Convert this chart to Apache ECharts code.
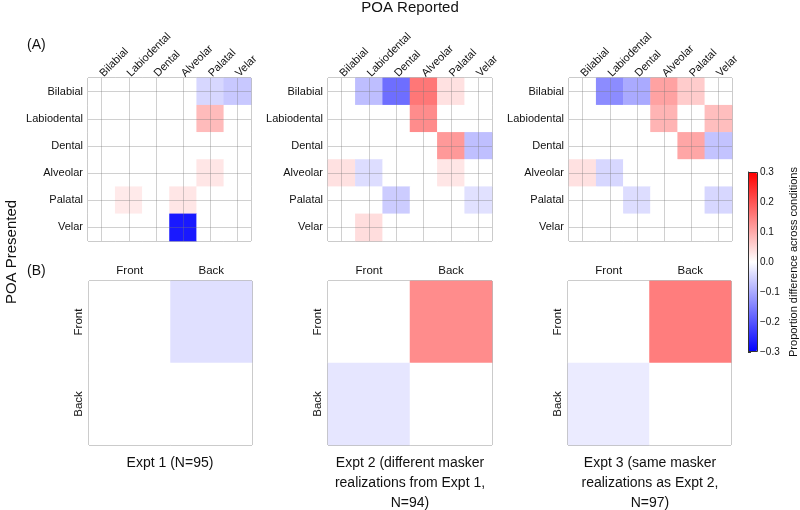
<!DOCTYPE html>
<html>
<head>
<meta charset="utf-8">
<script src="https://cdn.jsdelivr.net/npm/echarts@6/dist/echarts.min.js"></script>
<style>html,body{margin:0;padding:0;background:#fff}#c{width:800px;height:510px}</style>
</head>
<body>
<div id="c"></div>
<script>
const places = ['Bilabial','Labiodental','Dental','Alveolar','Palatal','Velar'];
const regions = ['Front','Back'];
const colorbarTicks = [-0.3,-0.2,-0.1,0.0,0.1,0.2,0.3];

// rows = presented, columns = reported
const expt1Fine = [
  [0, 0, 0, 0, -0.047, -0.065],
  [0, 0, 0, 0, 0.08, 0],
  [0, 0, 0, 0, 0, 0],
  [0, 0, 0, 0, 0.03, 0],
  [0, 0.025, 0, 0.03, 0, 0],
  [0, 0, 0, -0.27, 0, 0]
];
const expt2Fine = [
  [0, -0.076, -0.17, 0.16, 0.035, 0],
  [0, 0, 0, 0.135, 0, 0],
  [0, 0, 0, 0, 0.12, -0.075],
  [0.035, -0.04, 0, 0, 0.03, 0],
  [0, 0, -0.06, 0, 0, -0.035],
  [0, 0.04, 0, 0, 0, 0]
];
const expt3Fine = [
  [0, -0.135, -0.1, 0.11, 0.06, 0],
  [0, 0, 0, 0.088, 0, 0.076],
  [0, 0, 0, 0, 0.105, -0.07],
  [0.035, -0.047, 0, 0, 0, 0],
  [0, 0, -0.04, 0, 0, -0.047],
  [0, 0, 0, 0, 0, 0]
];
const expt1Coarse = [[0, -0.036],[0, 0]];
const expt2Coarse = [[0, 0.135],[-0.03, 0]];
const expt3Coarse = [[0, 0.153],[-0.024, 0]];

const exptTitles = [
  'Expt 1 (N=95)',
  'Expt 2 (different masker\nrealizations from Expt 1,\nN=94)',
  'Expt 3 (same masker\nrealizations as Expt 2,\nN=97)'
];

const FONT = "'Liberation Sans', Arial, sans-serif";
const TXT = '#111';

function toCells(m){
  const out = [];
  m.forEach((row, r) => row.forEach((v, c) => out.push([c, r, v])));
  return out;
}

const topLayout = [
  {left: 88, top: 78, width: 163, height: 163},
  {left: 328, top: 78, width: 164, height: 163},
  {left: 569, top: 78, width: 163, height: 163}
];
const botLayout = [
  {left: 89, top: 281, width: 163, height: 164},
  {left: 328, top: 281, width: 164, height: 164},
  {left: 568, top: 281, width: 163, height: 164}
];
const cbar = {left: 748, top: 172, width: 9, height: 180};

const grids = [], xAxes = [], yAxes = [], series = [];
const fine = [expt1Fine, expt2Fine, expt3Fine];
const coarse = [expt1Coarse, expt2Coarse, expt3Coarse];

topLayout.forEach((g, i) => {
  grids.push(Object.assign({show: true, borderColor: '#777', borderWidth: 1, backgroundColor: '#fff'}, g));
  xAxes.push({gridIndex: i, type: 'category', position: 'top', data: places,
    axisLine: {show: false}, axisTick: {show: false}, splitLine: {show: false},
    axisLabel: {rotate: -45, fontSize: 11, color: TXT, fontFamily: FONT, margin: 3, interval: 0}});
  yAxes.push({gridIndex: i, type: 'category', inverse: true, data: places,
    axisLine: {show: false}, axisTick: {show: false}, splitLine: {show: false},
    axisLabel: {fontSize: 11, color: TXT, fontFamily: FONT, margin: 5, interval: 0}});
  series.push({type: 'heatmap', xAxisIndex: i, yAxisIndex: i, data: toCells(fine[i]),
    emphasis: {disabled: true}, silent: true, z: 2,
    markLine: {silent: true, symbol: ['none','none'], animation: false, label: {show: false},
      lineStyle: {color: 'rgba(120,120,120,0.35)', width: 1, type: 'solid'},
      emphasis: {disabled: true},
      data: places.map(p => ({xAxis: p})).concat(places.map(p => ({yAxis: p})))}
  });
});
botLayout.forEach((g, k) => {
  const i = k + 3;
  grids.push(Object.assign({show: true, borderColor: '#777', borderWidth: 1, backgroundColor: '#fff'}, g));
  xAxes.push({gridIndex: i, type: 'category', position: 'top', data: regions,
    axisLine: {show: false}, axisTick: {show: false}, splitLine: {show: false},
    axisLabel: {fontSize: 11.5, color: TXT, fontFamily: FONT, margin: 4, interval: 0}});
  yAxes.push({gridIndex: i, type: 'category', inverse: true, data: regions,
    axisLine: {show: false}, axisTick: {show: false}, splitLine: {show: false},
    axisLabel: {rotate: 90, fontSize: 11.5, color: TXT, fontFamily: FONT, margin: 4, interval: 0}});
  series.push({type: 'heatmap', xAxisIndex: i, yAxisIndex: i, data: toCells(coarse[k]),
    emphasis: {disabled: true}, silent: true});
});
// colorbar axis
grids.push(Object.assign({show: false}, cbar));
xAxes.push({gridIndex: 6, type: 'value', min: 0, max: 1, show: false});
yAxes.push({gridIndex: 6, type: 'value', position: 'right',
  min: colorbarTicks[0], max: colorbarTicks[colorbarTicks.length-1], interval: 0.1,
  axisLine: {show: true, lineStyle: {color: '#333', width: 1}},
  axisTick: {show: true, length: 3, lineStyle: {color: '#333'}},
  splitLine: {show: false},
  axisLabel: {fontSize: 10, color: TXT, fontFamily: FONT, margin: 3,
    formatter: v => (Math.abs(v) < 1e-9 ? '0.0' : (v < 0 ? '\u2212' + Math.abs(v).toFixed(1) : v.toFixed(1)))},
  name: 'Proportion difference across conditions', nameLocation: 'middle', nameRotate: 90, nameGap: 31,
  nameTextStyle: {fontSize: 11, color: TXT, fontFamily: FONT}
});

const graphics = [
  {type: 'text', x: 410, y: 8, style: {text: 'POA Reported', font: '15px ' + FONT, fill: TXT, textAlign: 'center', textVerticalAlign: 'middle'}},
  {type: 'text', x: 27, y: 45, style: {text: '(A)', font: '14px ' + FONT, fill: TXT, textAlign: 'left', textVerticalAlign: 'middle'}},
  {type: 'text', x: 27, y: 271, style: {text: '(B)', font: '14px ' + FONT, fill: TXT, textAlign: 'left', textVerticalAlign: 'middle'}},
  {type: 'text', x: 12, y: 252, rotation: Math.PI/2, style: {text: 'POA Presented', font: '15px ' + FONT, fill: TXT, textAlign: 'center', textVerticalAlign: 'middle'}},
  {type: 'rect', z: 100, silent: true, shape: {x: cbar.left + 0.5, y: cbar.top + 0.5, width: cbar.width, height: cbar.height - 1}, style: {fill: 'none', stroke: '#333', lineWidth: 1}}
];
const titleX = [170, 410, 650];
exptTitles.forEach((t, i) => {
  graphics.push({type: 'text', x: titleX[i], y: 453, style: {text: t, font: '14px ' + FONT, fill: TXT, textAlign: 'center', textVerticalAlign: 'top', lineHeight: 20}});
});

const chart = echarts.init(document.getElementById('c'), null, {renderer: 'canvas'});
chart.setOption({
  animation: false,
  backgroundColor: '#fff',
  grid: grids, xAxis: xAxes, yAxis: yAxes, series: series,
  visualMap: {
    type: 'continuous', seriesIndex: [0,1,2,3,4,5],
    min: colorbarTicks[0], max: colorbarTicks[colorbarTicks.length-1],
    calculable: false, realtime: false, hoverLink: false,
    left: cbar.left, top: cbar.top, itemWidth: cbar.width, itemHeight: cbar.height,
    padding: 0, text: null, showLabel: false,
    inRange: {color: ['#0000ff', '#ffffff', '#ff0000']}
  },
  graphic: graphics
});
</script>
</body>
</html>
